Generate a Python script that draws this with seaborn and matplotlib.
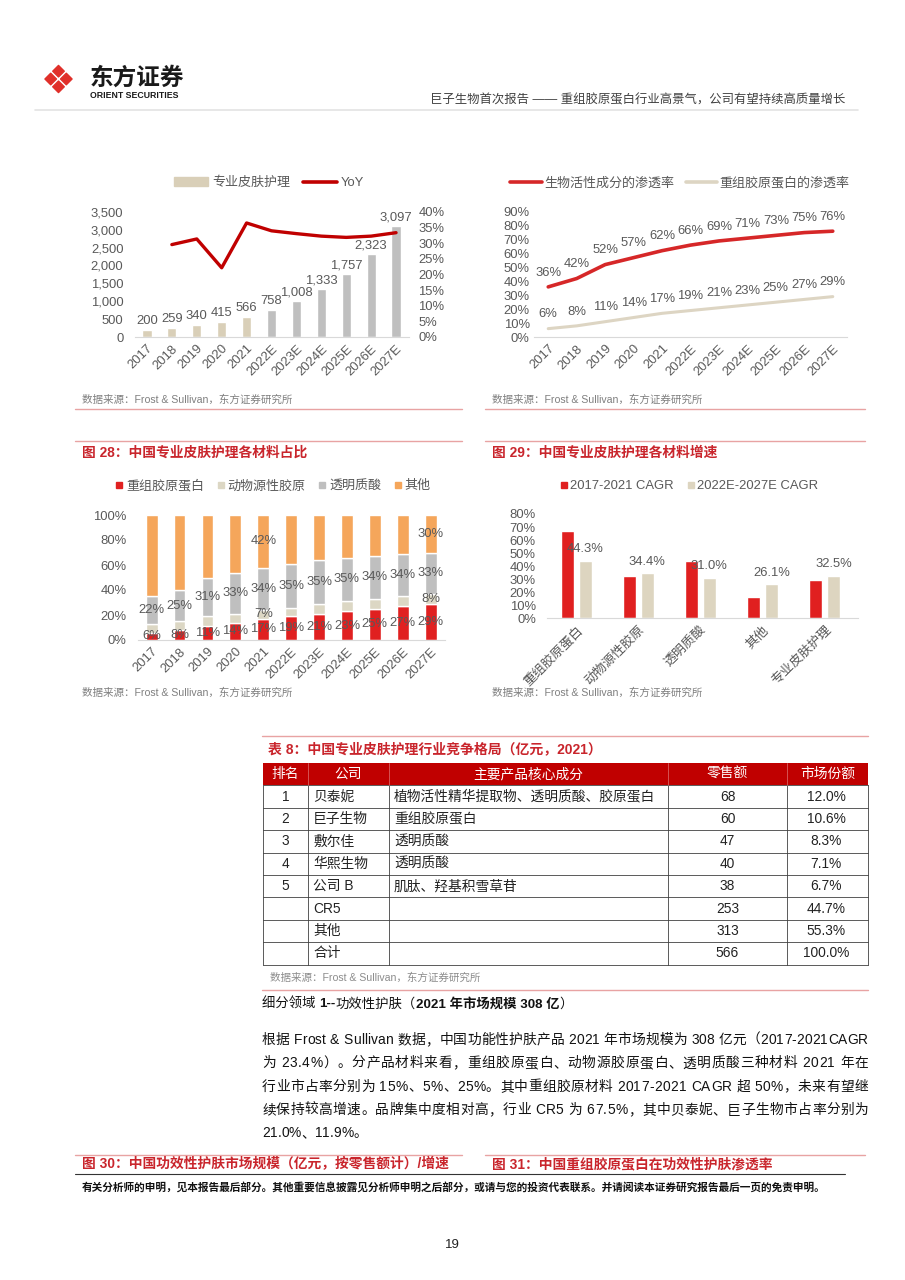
import numpy as np
import pandas as pd
import matplotlib
matplotlib.use("Agg")
import matplotlib.pyplot as plt
from matplotlib.lines import Line2D
from matplotlib.patches import Patch, Rectangle, Polygon
from matplotlib.ticker import FuncFormatter
import seaborn as sns

# ---- data ----
years = ['2017', '2018', '2019', '2020', '2021', '2022E', '2023E', '2024E', '2025E', '2026E', '2027E']

# 专业皮肤护理市场规模（亿元）+ YoY (from 2018)
pro_skin_size = [200, 259, 340, 415, 566, 758, 1008, 1333, 1757, 2323, 3097]
pro_skin_yoy = [29.5, 31.3, 22.1, 36.4, 33.9, 33.0, 32.2, 31.8, 32.2, 33.3]

# 渗透率
bio_active_pen = [36, 42, 52, 57, 62, 66, 69, 71, 73, 75, 76]
recomb_pen = [6, 8, 11, 14, 17, 19, 21, 23, 25, 27, 29]

# 图28 各材料占比 (%)
share_recomb = [6, 8, 11, 14, 17, 19, 21, 23, 25, 27, 29]
share_animal = [7, 7, 8, 7, 7, 7, 8, 8, 8, 8, 8]
share_ha = [22, 25, 31, 33, 34, 35, 35, 35, 34, 34, 33]
share_other = [65, 60, 50, 46, 42, 39, 36, 34, 33, 31, 30]
share_names = ['重组胶原蛋白', '动物源性胶原', '透明质酸', '其他']

# 图29 各材料增速 (%)
materials = ['重组胶原蛋白', '动物源性胶原', '透明质酸', '其他', '专业皮肤护理']
cagr_17_21 = [67.0, 32.5, 44.0, 16.5, 29.7]
cagr_22_27 = [44.3, 34.4, 31.0, 26.1, 32.5]

# 表8
tbl_head = ['排名', '公司', '主要产品核心成分', '零售额', '市场份额']
tbl_rank = ['1', '2', '3', '4', '5', '', '', '']
tbl_company = ['贝泰妮', '巨子生物', '敷尔佳', '华熙生物', '公司 B', 'CR5', '其他', '合计']
tbl_ingredient = ['植物活性精华提取物、透明质酸、胶原蛋白', '重组胶原蛋白', '透明质酸', '透明质酸',
                  '肌肽、羟基积雪草苷', '', '', '']
tbl_sales = [68, 60, 47, 40, 38, 253, 313, 566]
tbl_share = ['12.0%', '10.6%', '8.3%', '7.1%', '6.7%', '44.7%', '55.3%', '100.0%']

para_lines = [
    '根据 Frost & Sullivan 数据，中国功能性护肤产品 2021 年市场规模为 308 亿元（2017-2021CAGR',
    '为 23.4%）。分产品材料来看，重组胶原蛋白、动物源胶原蛋白、透明质酸三种材料 2021 年在',
    '行业市占率分别为 15%、5%、25%。其中重组胶原材料 2017-2021 CAGR 超 50%，未来有望继',
    '续保持较高增速。品牌集中度相对高，行业 CR5 为 67.5%，其中贝泰妮、巨子生物市占率分别为',
    '21.0%、11.9%。',
]

# ---- style ----
sns.set_style('white')
plt.rcParams['font.family'] = ['Liberation Sans', 'Noto Sans CJK SC', 'DejaVu Sans']
plt.rcParams['axes.unicode_minus'] = False

RED = '#c00000'
RED2 = '#d62728'
BRED = '#e02020'
BEIGE = '#d9cfb8'
GREY = '#bfbfbf'
ORANGE = '#f5a65b'
TXT = '#595959'
TITLE_RED = '#c9252c'
LINE_RED = '#e8a3a3'
FS = 9.4

W, H = 905, 1280
fig = plt.figure(figsize=(W / 100, H / 100), dpi=100)


def px_axes(x0, y0, x1, y1):
    return fig.add_axes([x0 / W, 1 - y1 / H, (x1 - x0) / W, (y1 - y0) / H])


def clean(ax, bottom=True):
    for s in ['top', 'right', 'left']:
        ax.spines[s].set_visible(False)
    ax.spines['bottom'].set_visible(bottom)
    ax.spines['bottom'].set_color('#d9d9d9')
    ax.tick_params(length=0, labelsize=FS, colors=TXT)
    ax.set_xlabel('')
    ax.set_ylabel('')
    ax.patch.set_alpha(0)


def rot_xticks(ax, labels):
    ax.set_xticks(range(len(labels)))
    ax.set_xticklabels(labels, rotation=45, ha='right', rotation_mode='anchor')
    ax.tick_params(axis='x', pad=4)


# decoration layer in page pixels
deco = fig.add_axes([0, 0, 1, 1])
deco.set_xlim(0, W)
deco.set_ylim(H, 0)
deco.axis('off')

# ---- chart: 专业皮肤护理规模 ----
ax1 = px_axes(134.5, 211.7, 408.5, 337)
bar_cols = [BEIGE] * 5 + [GREY] * 6
sns.barplot(x=years, y=pro_skin_size, hue=years, palette=bar_cols, legend=False,
            width=0.37, saturation=1, ax=ax1)
ax1.set_ylim(0, 3500)
ax1.set_yticks(range(0, 3501, 500))
ax1.yaxis.set_major_formatter(FuncFormatter(lambda v, p: f'{v:,.0f}'))
for c in ax1.containers:
    ax1.bar_label(c, fmt='{:,.0f}', padding=2, fontsize=FS, color=TXT)
clean(ax1)
ax1.tick_params(axis='y', pad=8)
rot_xticks(ax1, years)

ax1b = ax1.twinx()
sns.lineplot(x=np.arange(1, len(years)), y=pro_skin_yoy, color=RED, lw=2.4, ax=ax1b)
ax1b.set_ylim(0, 40)
ax1b.set_yticks(range(0, 41, 5))
ax1b.yaxis.set_major_formatter(FuncFormatter(lambda v, p: f'{v:.0f}%'))
for s in ax1b.spines.values():
    s.set_visible(False)
ax1b.tick_params(length=0, labelsize=FS, colors=TXT, pad=7)
ax1b.set_ylabel('')
ax1.set_xlim(-0.5, len(years) - 0.5)
fig.legend(handles=[Patch(color=BEIGE), Line2D([], [], color=RED, lw=2.6)],
           labels=['专业皮肤护理', 'YoY'], loc='center', bbox_to_anchor=(269 / W, 1 - 183 / H),
           ncol=2, frameon=False, fontsize=FS, handlelength=2.6, handleheight=0.6,
           columnspacing=1.0, handletextpad=0.3, labelcolor=TXT)

# ---- chart: 渗透率 ----
ax2 = px_axes(534, 211.7, 847, 337)
xi = np.arange(len(years))
sns.lineplot(x=xi, y=bio_active_pen, color=RED2, lw=2.6, ax=ax2)
sns.lineplot(x=xi, y=recomb_pen, color='#ddd5c3', lw=2.2, ax=ax2)
for i in range(len(years)):
    ax2.annotate(f'{bio_active_pen[i]}%', (i, bio_active_pen[i]), xytext=(0, 6),
                 textcoords='offset points', ha='center', va='bottom', fontsize=FS, color=TXT)
    ax2.annotate(f'{recomb_pen[i]}%', (i, recomb_pen[i]), xytext=(0, 6),
                 textcoords='offset points', ha='center', va='bottom', fontsize=FS, color=TXT)
ax2.set_ylim(0, 90)
ax2.set_yticks(range(0, 91, 10))
ax2.yaxis.set_major_formatter(FuncFormatter(lambda v, p: f'{v:.0f}%'))
ax2.set_xlim(-0.5, len(years) - 0.5)
clean(ax2)
ax2.tick_params(axis='y', pad=3)
rot_xticks(ax2, years)
fig.legend(handles=[Line2D([], [], color=RED2, lw=2.6), Line2D([], [], color='#ddd5c3', lw=2.6)],
           labels=['生物活性成分的渗透率', '重组胶原蛋白的渗透率'], loc='center',
           bbox_to_anchor=(680 / W, 1 - 183 / H), ncol=2, frameon=False, fontsize=FS,
           handlelength=2.4, columnspacing=0.9, handletextpad=0.2, labelcolor=TXT)

# ---- 图28 stacked ----
ax3 = px_axes(137.7, 515, 444.6, 640)
layers = [share_recomb, share_animal, share_ha, share_other]
layer_cols = [BRED, '#dcd7c4', GREY, ORANGE]
show = [list(range(11)), [4, 10], list(range(11)), [4, 10]]
bottom = np.zeros(len(years))
for vals, col, idx in zip(layers, layer_cols, show):
    sns.barplot(x=years, y=vals, color=col, bottom=bottom, width=0.42, saturation=1, ax=ax3)
    for i in idx:
        ax3.text(i, bottom[i] + vals[i] / 2, f'{vals[i]}%', ha='center', va='center',
                 fontsize=FS, color=TXT)
    bottom = bottom + np.array(vals)
ax3.set_ylim(0, 100)
ax3.set_yticks(range(0, 101, 20))
ax3.yaxis.set_major_formatter(FuncFormatter(lambda v, p: f'{v:.0f}%'))
ax3.set_xlim(-0.5, len(years) - 0.5)
clean(ax3)
ax3.tick_params(axis='y', pad=8)
rot_xticks(ax3, years)
fig.legend(handles=[Line2D([], [], marker='s', ls='', color=c, ms=4.5) for c in layer_cols],
           labels=share_names, loc='center', bbox_to_anchor=(273 / W, 1 - 486 / H),
           ncol=4, frameon=False, fontsize=FS, handlelength=0.6, columnspacing=1.0,
           handletextpad=0.2, labelcolor=TXT)

# ---- 图29 CAGR ----
ax4 = px_axes(547, 514, 858, 618.3)
cagr_df = pd.DataFrame({
    'material': materials * 2,
    'period': ['2017-2021 CAGR'] * len(materials) + ['2022E-2027E CAGR'] * len(materials),
    'value': cagr_17_21 + cagr_22_27,
})
sns.barplot(data=cagr_df, x='material', y='value', hue='period', palette=[BRED, '#ddd5c0'],
            width=0.58, gap=0.26, saturation=1, legend=False, ax=ax4)
ax4.bar_label(ax4.containers[1], fmt='{:.1f}%', padding=4, fontsize=FS, color=TXT)
ax4.set_ylim(0, 80)
ax4.set_yticks(range(0, 81, 10))
ax4.yaxis.set_major_formatter(FuncFormatter(lambda v, p: f'{v:.0f}%'))
ax4.set_xlim(-0.47, 4.54)
clean(ax4)
ax4.tick_params(axis='y', pad=8)
rot_xticks(ax4, materials)
fig.legend(handles=[Line2D([], [], marker='s', ls='', color=c, ms=4.5) for c in [BRED, '#ddd5c0']],
           labels=['2017-2021 CAGR', '2022E-2027E CAGR'], loc='center',
           bbox_to_anchor=(689 / W, 1 - 486 / H), ncol=2, frameon=False, fontsize=FS,
           handlelength=0.6, columnspacing=1.0, handletextpad=0.2, labelcolor=TXT)

# ---- page furniture ----
# logo: four red lobes split by a white X
cx, cy, d = 58.5, 79, 7.8
for ox, oy in [(0, -1), (1, 0), (0, 1), (-1, 0)]:
    px, py = cx + ox * d, cy + oy * d
    s = d * 0.74
    deco.add_patch(Polygon([(px, py - s), (px + s, py), (px, py + s), (px - s, py)],
                           closed=True, fc='#e0302a', ec='#e0302a', lw=1.0, joinstyle='round'))
deco.text(90, 78, '东方证券', fontsize=17, fontweight='bold', color='#1a1a1a', va='center',
          family=['Noto Sans CJK SC'])
deco.text(90, 96, 'ORIENT SECURITIES', fontsize=6.3, fontweight='bold', color='#1a1a1a', va='center')
deco.text(845, 100, '巨子生物首次报告 —— 重组胶原蛋白行业高景气，公司有望持续高质量增长',
          fontsize=8.9, color='#404040', ha='right', va='center')
deco.plot([35, 858], [110, 110], color='#e3e3e3', lw=1.2)

src = '数据来源：Frost & Sullivan，东方证券研究所'
for x in [82, 492]:
    deco.text(x, 400, src, fontsize=7.6, color='#7f7f7f', va='center')
    deco.text(x, 693, src, fontsize=7.6, color='#7f7f7f', va='center')
for x0, x1 in [(75, 462), (485, 865)]:
    deco.plot([x0, x1], [409, 409], color=LINE_RED, lw=1)
    deco.plot([x0, x1], [441, 441], color=LINE_RED, lw=1)
    deco.plot([x0, x1], [1155, 1155], color=LINE_RED, lw=1)
deco.text(82, 453, '图 28：中国专业皮肤护理各材料占比', fontsize=9.9, fontweight='bold',
          color=TITLE_RED, va='center')
deco.text(492, 453, '图 29：中国专业皮肤护理各材料增速', fontsize=9.9, fontweight='bold',
          color=TITLE_RED, va='center')

# table
deco.plot([262, 868], [736, 736], color=LINE_RED, lw=1)
deco.text(268, 749, '表 8：中国专业皮肤护理行业竞争格局（亿元，2021）', fontsize=10,
          fontweight='bold', color=TITLE_RED, va='center')
col_x = [263, 308, 389, 668, 787, 868]
top, rh = 763, 22.4
TFS = 9.9
deco.add_patch(Rectangle((col_x[0], top), col_x[-1] - col_x[0], rh, fc=RED, ec='none'))
head_pos = [(col_x[i] + col_x[i + 1]) / 2 for i in range(5)]
for i, h in enumerate(tbl_head):
    deco.text(head_pos[i], top + rh / 2, h, fontsize=TFS, color='white', ha='center', va='center')
for r in range(len(tbl_company)):
    yc = top + rh * (r + 1.5)
    deco.text(head_pos[0], yc, tbl_rank[r], fontsize=TFS, color='#222222', ha='center', va='center')
    deco.text(313, yc, tbl_company[r], fontsize=TFS, color='#222222', va='center')
    deco.text(394, yc, tbl_ingredient[r], fontsize=TFS, color='#222222', va='center')
    deco.text(head_pos[3], yc, str(tbl_sales[r]), fontsize=TFS, color='#222222', ha='center', va='center')
    deco.text(826, yc, tbl_share[r], fontsize=TFS, color='#222222', ha='center', va='center')
bot = top + rh * (len(tbl_company) + 1)
for r in range(1, len(tbl_company) + 2):
    deco.plot([col_x[0], col_x[-1]], [top + rh * r] * 2, color='#404040', lw=0.6)
for x in col_x:
    deco.plot([x, x], [top + rh, bot], color='#404040', lw=0.6)
for x in col_x[1:-1]:
    deco.plot([x, x], [top, top + rh], color='#d96060', lw=0.6)
deco.text(270, 978, src, fontsize=7.6, color='#8c8c8c', va='center')
deco.plot([262, 868], [990, 990], color=LINE_RED, lw=1)

# text block with bold parts
renderer = fig.canvas.get_renderer()
xpos = 262
for part, bold in [('细分领域 ', False), ('1--', True), ('功效性护肤（', False),
                   ('2021 年市场规模 308 亿', True), ('）', False)]:
    t = deco.text(xpos, 1004, part, fontsize=9.6, color='#111111', va='center',
                  fontweight='bold' if bold else 'normal')
    xpos += t.get_window_extent(renderer).width

# justified paragraph: spread each full line between 262 and 868
PFS = 9.9
for k, line in enumerate(para_lines):
    y = 1040 + k * 23.3
    chars = list(line)
    widths = []
    for ch in chars:
        t = deco.text(0, 0, ch if ch != ' ' else 'a', fontsize=PFS)
        w = t.get_window_extent(renderer).width
        if ch == ' ':
            w *= 0.5
        widths.append(w)
        t.remove()
    natural = sum(widths)
    extra = 0 if k == len(para_lines) - 1 else max(0, (868 - 262 - natural) / (len(chars) - 1))
    x = 262
    for ch, w in zip(chars, widths):
        if ch != ' ':
            deco.text(x, y, ch, fontsize=PFS, color='#111111', va='center')
        x += w + extra

deco.text(82, 1164, '图 30：中国功效性护肤市场规模（亿元，按零售额计）/增速', fontsize=9.9,
          fontweight='bold', color=TITLE_RED, va='center')
deco.text(492, 1164, '图 31：中国重组胶原蛋白在功效性护肤渗透率', fontsize=9.9,
          fontweight='bold', color=TITLE_RED, va='center')
deco.plot([75, 845], [1174, 1174], color='#333333', lw=0.8)
deco.text(82, 1187, '有关分析师的申明，见本报告最后部分。其他重要信息披露见分析师申明之后部分，或请与您的投资代表联系。并请阅读本证券研究报告最后一页的免责申明。',
          fontsize=7.7, fontweight='bold', color='#111111', va='center')
deco.text(452, 1245, '19', fontsize=9.5, color='#222222', ha='center', va='center')

fig.savefig('out.png', dpi=100)
